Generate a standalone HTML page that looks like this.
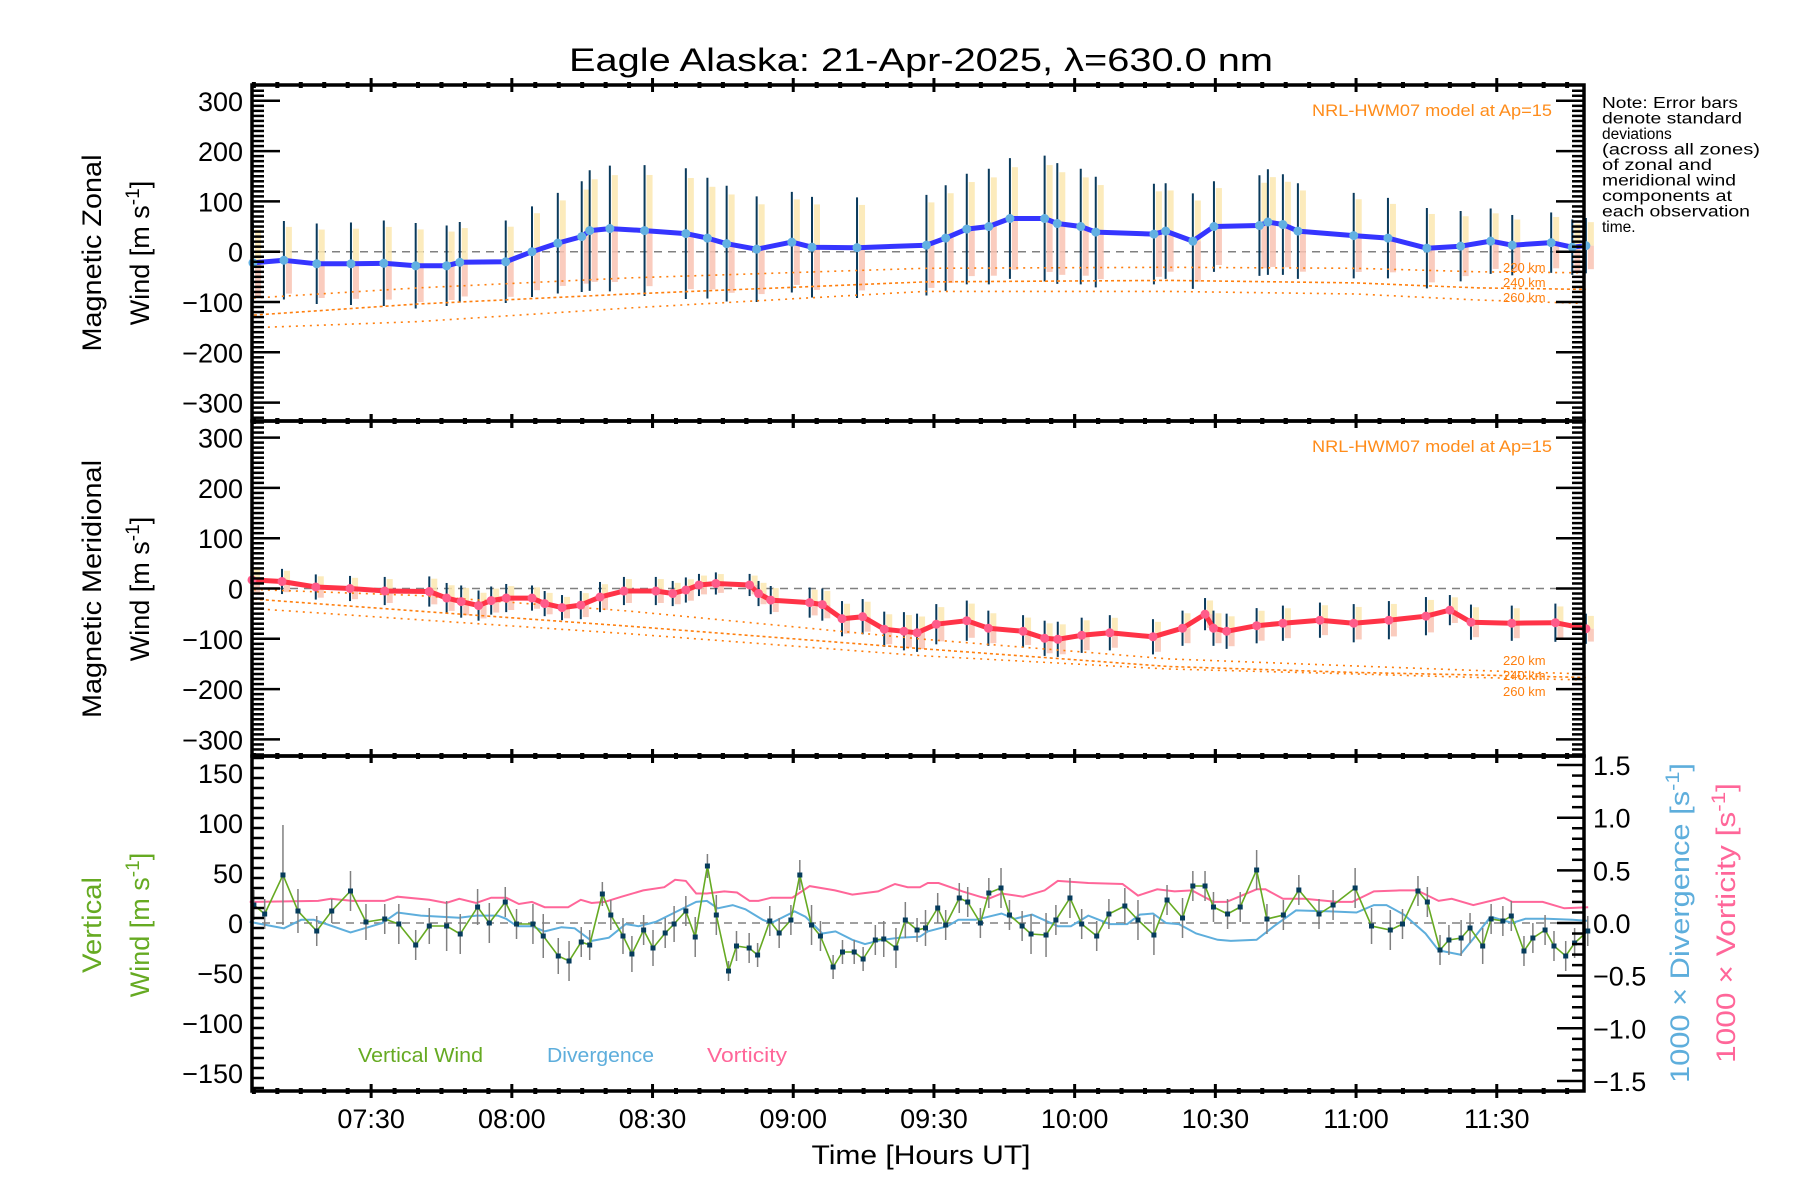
<!DOCTYPE html>
<html><head><meta charset="utf-8"><style>
html,body{margin:0;padding:0;background:#fff;}
svg{display:block;font-family:"Liberation Sans","DejaVu Sans",sans-serif;}
</style></head><body>
<svg id="chart" xmlns="http://www.w3.org/2000/svg" width="1800" height="1200" viewBox="0 0 1800 1200">
<rect x="0" y="0" width="1800" height="1200" fill="#fff"/>
<g id="layer"></g>
<text x="921" y="71" font-size="32" text-anchor="middle" textLength="704" lengthAdjust="spacingAndGlyphs">Eagle Alaska: 21-Apr-2025, λ=630.0 nm</text>
<g font-size="15.5" fill="#000">
<text x="1602" y="108" textLength="136" lengthAdjust="spacingAndGlyphs">Note: Error bars</text>
<text x="1602" y="123.5" textLength="140" lengthAdjust="spacingAndGlyphs">denote standard</text>
<text x="1602" y="139">deviations</text>
<text x="1602" y="154.5" textLength="158" lengthAdjust="spacingAndGlyphs">(across all zones)</text>
<text x="1602" y="170" textLength="110" lengthAdjust="spacingAndGlyphs">of zonal and</text>
<text x="1602" y="185.5" textLength="134" lengthAdjust="spacingAndGlyphs">meridional wind</text>
<text x="1602" y="201" textLength="130" lengthAdjust="spacingAndGlyphs">components at</text>
<text x="1602" y="216.5" textLength="148" lengthAdjust="spacingAndGlyphs">each observation</text>
<text x="1602" y="232">time.</text>
</g>
<g font-size="27">
<text transform="translate(101,253) rotate(-90)" text-anchor="middle" textLength="197" lengthAdjust="spacingAndGlyphs">Magnetic Zonal</text>
<text transform="translate(149,253) rotate(-90)" text-anchor="middle">Wind [m s<tspan dy="-10" font-size="19">-1</tspan><tspan dy="10">]</tspan></text>
</g>
<g font-size="27">
<text transform="translate(101,589) rotate(-90)" text-anchor="middle" textLength="258" lengthAdjust="spacingAndGlyphs">Magnetic Meridional</text>
<text transform="translate(149,589) rotate(-90)" text-anchor="middle">Wind [m s<tspan dy="-10" font-size="19">-1</tspan><tspan dy="10">]</tspan></text>
</g>
<g font-size="27" fill="#66aa22">
<text transform="translate(101,925) rotate(-90)" text-anchor="middle" textLength="96" lengthAdjust="spacingAndGlyphs">Vertical</text>
<text transform="translate(149,925) rotate(-90)" text-anchor="middle">Wind [m s<tspan dy="-10" font-size="19">-1</tspan><tspan dy="10">]</tspan></text>
</g>
<g font-size="27" fill="#5eaedc">
<text transform="translate(1689,923) rotate(-90)" text-anchor="middle" textLength="320" lengthAdjust="spacingAndGlyphs">1000 × Divergence [s<tspan dy="-10" font-size="19">-1</tspan><tspan dy="10">]</tspan></text>
</g>
<g font-size="27" fill="#ff6699">
<text transform="translate(1735,923) rotate(-90)" text-anchor="middle" textLength="280" lengthAdjust="spacingAndGlyphs">1000 × Vorticity [s<tspan dy="-10" font-size="19">-1</tspan><tspan dy="10">]</tspan></text>
</g>
<text x="921" y="1164" font-size="27" text-anchor="middle" textLength="219" lengthAdjust="spacingAndGlyphs">Time [Hours UT]</text>
<g font-size="17" fill="#ff8c1a">
<text x="1552" y="116" text-anchor="end" textLength="240" lengthAdjust="spacingAndGlyphs">NRL-HWM07 model at Ap=15</text>
<text x="1552" y="452" text-anchor="end" textLength="240" lengthAdjust="spacingAndGlyphs">NRL-HWM07 model at Ap=15</text>
</g>
<g font-size="20">
<text x="358" y="1062" fill="#66aa22" textLength="125" lengthAdjust="spacingAndGlyphs">Vertical Wind</text>
<text x="547" y="1062" fill="#5eaedc" textLength="107" lengthAdjust="spacingAndGlyphs">Divergence</text>
<text x="707" y="1062" fill="#ff6699" textLength="80" lengthAdjust="spacingAndGlyphs">Vorticity</text>
</g>
</svg>
<script>
// ---- data (time in minutes after 07:00 UT) ----
const xTickLabels = ["07:30","08:00","08:30","09:00","09:30","10:00","10:30","11:00","11:30"];
const xTickMinutes = [30,60,90,120,150,180,210,240,270];
const windTickValues = [300,200,100,0,-100,-200,-300];
const vertTickValues = [150,100,50,0,-50,-100,-150];
const rightTickValues = [1.5,1.0,0.5,0.0,-0.5,-1.0,-1.5];
const rightTickLabels = ["1.5","1.0","0.5","0.0","\u22120.5","\u22121.0","\u22121.5"];

const zonalTimes = [4.8,11.4,18.4,25.7,32.7,39.5,46.1,48.9,58.7,64.3,69.8,74.9,76.6,80.9,88.3,97.1,101.7,105.8,112.2,119.7,124,133.6,148.4,152.5,157,161.7,166.2,173.6,176.3,181.3,184.5,196.9,199.4,205.2,209.7,219.4,221.2,224.4,227.6,239.5,246.8,255.1,262.3,268.7,273.3,281.6,286.1,289];
const zonalValues = [-22,-17,-24,-24,-23,-28,-28,-21,-20,0,17,30,42,46,42,36,27,16,5,19,9,8,13,27,45,50,66,66,56,50,39,35,41,21,50,52,59,54,41,32,27,7,11,21,13,18,9,12];
const zonalErrors = [78,78,80,82,85,85,80,80,82,90,100,110,120,125,130,130,120,115,105,100,100,100,100,105,110,115,120,125,120,115,110,100,95,95,90,100,105,100,95,85,80,80,70,65,60,60,55,55];

const meridTimes = [4.6,11,18.2,25.5,32.9,42.4,46.1,49.2,52.9,55.6,58.8,64.3,67,70.7,74.7,78.8,83.9,90.7,94.3,97.1,99.9,103.5,110.7,112.6,115.2,123.5,126.2,130.4,134.8,139.4,143.6,146.4,150.5,157,161.6,169,173.6,176.4,181.5,187.5,196.7,203,207.8,209.6,212.4,218.8,224.4,232.3,239.5,247,254.9,260,264.5,273.2,282.5,289];
const meridValues = [17,14,3,0,-5,-6,-19,-26,-34,-24,-19,-19,-30,-38,-33,-17,-5,-5,-10,-3,7,10,7,-10,-23,-28,-32,-60,-56,-81,-85,-88,-71,-64,-79,-85,-99,-101,-93,-88,-96,-79,-51,-79,-85,-74,-69,-63,-69,-63,-55,-43,-67,-69,-68,-80];
const meridErrors = [30,25,25,25,28,30,30,32,30,28,28,25,25,25,28,30,28,28,25,25,22,22,22,25,28,30,32,35,35,35,38,38,40,40,35,32,35,35,35,35,35,35,32,35,35,35,35,35,38,38,38,30,35,35,38,30];

const modelTimes = [5,40,85,148,200,240,266,289];
const zonal220 = [-92,-72,-52,-33,-31,-33,-40,-42];
const zonal240 = [-126,-104,-84,-60,-57,-62,-72,-75];
const zonal260 = [-151,-139,-112,-79,-79,-84,-96,-103];
const merid220 = [-2,-14,-45,-101,-140,-154,-163,-170];
const merid240 = [-21,-45,-75,-120,-155,-167,-172,-177];
const merid260 = [-40,-62,-90,-134,-160,-170,-177,-182];

const vwTimes = [5,7.3,11.2,14.4,18.4,21.6,25.6,28.9,32.9,35.9,39.5,42.4,46.1,49,52.7,55.2,58.6,61,64.5,66.7,69.9,72.2,74.8,76.6,79.3,81.1,83.7,85.6,88.1,90.1,92.7,94.6,97.1,99.1,101.7,103.6,106.2,107.9,110.6,112.4,115,117,119.5,121.4,123.9,125.8,128.5,130.5,133,134.9,137.5,139.3,141.9,143.9,146.4,148.2,150.8,152.5,155.4,157.2,159.9,161.7,164.3,166.1,168.8,170.7,173.9,176,179,181.5,184.7,187.3,190.7,193.5,196.9,199.7,203,205.2,207.8,209.6,212.6,215.3,218.8,221,224.5,227.8,232.1,235.1,239.8,243.3,247.3,249.9,253.2,255.2,257.9,259.8,262.4,264.3,267,268.8,271.3,273.1,275.8,277.7,280.3,282.2,284.7,286.6,289.4];
const vwValues = [18,9,48,12,-8,12,32,1,4,-1,-22,-3,-3,-11,16,0,21,-1,-1,-13,-33,-38,-19,-22,29,8,-13,-31,-7,-25,-10,-1,12,-14,57,8,-48,-23,-25,-32,2,-10,3,48,-2,-13,-44,-29,-29,-36,-17,-16,-25,3,-7,-5,15,-2,25,21,0,30,35,8,-3,-11,-12,3,25,-1,-13,9,17,3,-12,23,5,37,37,16,9,16,53,4,8,33,9,18,35,-3,-7,-1,32,21,-27,-17,-15,-5,-23,4,2,7,-28,-15,-7,-23,-33,-20,-8];
const vwErrors = [15,15,50,22,15,12,20,18,15,20,15,18,25,20,18,20,15,15,20,22,18,20,15,15,12,15,18,18,15,18,15,18,15,20,12,20,10,15,15,12,15,15,15,15,20,15,12,12,12,12,15,18,20,18,12,18,15,15,15,15,15,15,20,15,15,20,22,15,20,15,15,15,18,20,20,15,20,15,15,15,15,15,20,15,15,15,15,15,20,18,20,15,15,15,15,15,18,15,18,15,15,15,15,15,15,15,15,15,15];

const vortTimes = [4.1,18.7,21.4,26.0,32.8,35.6,42.4,46.0,48.8,52.4,55.6,58.8,61.5,64.3,67.0,72.0,74.7,77.0,79.8,83.4,88.0,92.5,94.8,97.1,99.3,101.6,105.3,108.0,110.7,112.6,115.3,119.8,123.5,128.9,132.6,138.1,141.7,144.4,147.0,148.7,151.0,156.1,159.8,161.6,164.4,169.0,173.6,176.4,182.9,190.2,193.5,197.6,201.3,205.0,209.6,212.4,218.8,220.7,224.4,229.0,235.9,239.2,243.8,249.3,253.0,257.6,260.4,265.0,271.5,273.3,279.8,284.4,289.5];
const vortValues = [0.20,0.21,0.23,0.21,0.21,0.25,0.22,0.19,0.23,0.19,0.24,0.24,0.18,0.20,0.15,0.15,0.22,0.19,0.20,0.25,0.31,0.34,0.41,0.40,0.28,0.28,0.30,0.29,0.21,0.21,0.24,0.24,0.35,0.31,0.27,0.30,0.37,0.34,0.34,0.38,0.38,0.30,0.25,0.23,0.28,0.25,0.31,0.40,0.38,0.37,0.26,0.32,0.30,0.31,0.20,0.20,0.32,0.32,0.23,0.23,0.20,0.20,0.30,0.31,0.31,0.21,0.23,0.17,0.24,0.20,0.20,0.14,0.15];

const divTimes = [4.1,11.4,15.1,17.8,25.6,32.4,35.6,40.6,48.8,52.4,57.0,58.8,61.1,64.3,67.0,70.6,73.4,77.0,80.7,84.3,87.0,90.7,94.3,99.3,101.6,103.9,107.1,109.8,113.5,115.3,120.3,122.6,126.2,129.0,132.6,135.3,139.0,142.6,147.0,148.7,152.9,155.2,158.9,164.4,167.2,170.9,176.4,179.2,182.9,187.5,191.2,193.9,196.7,199.5,202.2,205.9,210.5,213.3,218.8,222.5,227.2,234.5,240.1,243.8,246.5,250.2,254.8,257.6,262.2,265.0,268.7,273.3,276.1,280.7,286.2,289.5];
const divValues = [0.01,-0.05,0.03,0.03,-0.09,0.00,0.10,0.07,0.05,0.07,0.07,0.04,-0.03,-0.03,-0.08,-0.04,-0.05,-0.17,-0.14,-0.01,-0.03,0.01,0.09,0.20,0.21,0.14,0.17,0.13,0.03,0.00,0.11,0.06,-0.10,-0.08,-0.16,-0.20,-0.16,-0.14,-0.13,-0.08,-0.03,0.03,0.03,0.09,0.04,0.08,-0.03,-0.03,0.07,-0.01,-0.01,0.08,0.09,0.00,-0.01,-0.10,-0.16,-0.17,-0.16,-0.03,0.12,0.11,0.10,0.17,0.17,0.08,-0.10,-0.26,-0.30,-0.15,0.06,0.00,0.04,0.04,0.03,0.02];

// ---- scales ----
const X0 = 252, X1 = 1584, T0 = 4.6, T1 = 288.6;
function xs(t){ return X0 + (t - T0) * (X1 - X0) / (T1 - T0); }
const P = [
  {top:85, bot:421, zero:251.7, k:0.503},
  {top:421, bot:756, zero:588.5, k:0.503},
  {top:756, bot:1091, zero:923, k:1.0}
];
function yz(v){ return P[0].zero - v*P[0].k; }
function ym(v){ return P[1].zero - v*P[1].k; }
function yv(v){ return P[2].zero - v*P[2].k; }
function yr(v){ return P[2].zero - v*105.3; }

const NS = "http://www.w3.org/2000/svg";
const layer = document.getElementById('layer');
function mk(tag, attrs, parent){
  const e = document.createElementNS(NS, tag);
  for (const k in attrs) e.setAttribute(k, attrs[k]);
  (parent||layer).appendChild(e);
  return e;
}
function group(name){
  const g = document.createElementNS(NS,'g');
  
  
  layer.appendChild(g);
  return g;
}
function polyPts(ts, vs, yf){ return ts.map((t,i)=>xs(t).toFixed(1)+','+yf(vs[i]).toFixed(1)).join(' '); }

// ---- zero lines ----
const gz = group('zero-lines');
[P[0].zero, P[1].zero, P[2].zero].forEach(y=>{
  mk('line',{x1:262,x2:X1,y1:y,y2:y,stroke:'#808080','stroke-width':1.5,'stroke-dasharray':'8,6'},gz);
});

// ---- panel 1 & 2: pale zone bars, error bars ----
function windPanel(name, ts, vs, es, yf, lineColor, dotColor){
  const gp = group(name+'-zone-bars');
  ts.forEach((t,i)=>{
    const x = xs(t)+5;
    const yTop = yf(vs[i]+0.85*es[i]), yMid = yf(vs[i]), yBot = yf(vs[i]-0.85*es[i]);
    const r1 = mk('rect',{x:x-3,y:yTop,width:6,height:yMid-yTop,fill:'#fbe8b0',opacity:0.85},gp);
    
    
    const r2 = mk('rect',{x:x-3,y:yMid,width:6,height:yBot-yMid,fill:'#f9c3b3',opacity:0.85},gp);
    
    
  });
  const ge = group(name+'-error-bars');
  ts.forEach((t,i)=>{
    const x = xs(t);
    const l = mk('line',{x1:x,x2:x,y1:yf(vs[i]+es[i]),y2:yf(vs[i]-es[i]),stroke:'#0a3a5c','stroke-width':2},ge);
    
    
  });
}
windPanel('zonal', zonalTimes, zonalValues, zonalErrors, yz);
windPanel('meridional', meridTimes, meridValues, meridErrors, ym);

// ---- model lines ----
function modelLine(name, vs, yf, dash){
  const pl = mk('polyline',{points:polyPts(modelTimes, vs, yf),fill:'none',stroke:'#ff7f0e','stroke-width':1.6,'stroke-dasharray':dash});
  
  
}
modelLine('model-zonal-220km', zonal220, yz, '2,5');
modelLine('model-zonal-240km', zonal240, yz, '3,3');
modelLine('model-zonal-260km', zonal260, yz, '2,5');
modelLine('model-meridional-220km', merid220, ym, '2,5');
modelLine('model-meridional-240km', merid240, ym, '3,3');
modelLine('model-meridional-260km', merid260, ym, '2,5');
const gml = group('model-labels');
[["220 km",267],["240 km",282],["260 km",297],["220 km",660],["240 km",675],["260 km",691]].forEach(a=>{
  const t = mk('text',{x:1503,y:a[1]+5,'font-size':13,fill:'#ff7f0e'},gml);
  t.textContent = a[0];
});

// ---- mean lines ----
const zl = mk('polyline',{points:polyPts(zonalTimes, zonalValues, yz),fill:'none',stroke:'#3535ff','stroke-width':5,'stroke-linejoin':'round'});


const gzd = group('zonal-wind-points');
zonalTimes.forEach((t,i)=>{
  const c = mk('circle',{cx:xs(t),cy:yz(zonalValues[i]),r:4.5,fill:'#62b0e2'},gzd);
  
  
});
const ml = mk('polyline',{points:polyPts(meridTimes, meridValues, ym),fill:'none',stroke:'#ff3347','stroke-width':5,'stroke-linejoin':'round'});


const gmd = group('meridional-wind-points');
meridTimes.forEach((t,i)=>{
  const c = mk('circle',{cx:xs(t),cy:ym(meridValues[i]),r:4.5,fill:'#ff5c8a'},gmd);
  
  
});

// ---- panel 3 ----
const vo = mk('polyline',{points:polyPts(vortTimes, vortValues, yr),fill:'none',stroke:'#ff6699','stroke-width':2});


const dv = mk('polyline',{points:polyPts(divTimes, divValues, yr),fill:'none',stroke:'#5eaedc','stroke-width':2});


const gve = group('vertical-wind-error-bars');
vwTimes.forEach((t,i)=>{
  const x = xs(t);
  const l = mk('line',{x1:x,x2:x,y1:yv(vwValues[i]+vwErrors[i]),y2:yv(vwValues[i]-vwErrors[i]),stroke:'#808080','stroke-width':1.5},gve);
  
  
});
const vl = mk('polyline',{points:polyPts(vwTimes, vwValues, yv),fill:'none',stroke:'#66aa22','stroke-width':1.6});


const gvp = group('vertical-wind-points');
vwTimes.forEach((t,i)=>{
  const r = mk('rect',{x:xs(t)-2.5,y:yv(vwValues[i])-2.5,width:5,height:5,fill:'#063c5c'},gvp);
  
  
});

// ---- axes / frames / ticks ----
const ga = group('axes');
P.forEach((p,pi)=>{
  // x ticks
  for (let m=5; m<=285; m+=5){
    const x = xs(m);
    const major = xTickMinutes.indexOf(m) >= 0;
    const h = major ? 7 : 3;
    [p.top, p.bot].forEach(y=>{
      mk('line',{x1:x,x2:x,y1:y-h,y2:y+h,stroke:'#000','stroke-width':major?3:4},ga);
    });
  }
  // y ticks
  const lo = pi<2 ? -330 : -165, hi = pi<2 ? 330 : 165;
  const step = 10, majorStep = pi<2 ? 100 : 50;
  for (let v=lo; v<=hi; v+=step){
    const y = p.zero - v*p.k;
    if (y < p.top+1 || y > p.bot-1) continue;
    const major = (v % majorStep) === 0;
    const len = major ? 28 : 12;
    mk('line',{x1:X0,x2:X0+len,y1:y,y2:y,stroke:'#000','stroke-width':2.5},ga);
    if (pi<2) mk('line',{x1:X1-len,x2:X1,y1:y,y2:y,stroke:'#000','stroke-width':2.5},ga);
  }
  mk('rect',{x:X0,y:p.top,width:X1-X0,height:p.bot-p.top,fill:'none',stroke:'#000','stroke-width':3.5},ga);
});
// right axis panel 3
for (let i=-15; i<=15; i++){
  const v = i/10;
  const y = yr(v);
  if (y < P[2].top+1 || y > P[2].bot-1) continue;
  const len = (i%5===0) ? 27 : 12;
  mk('line',{x1:X1-len,x2:X1,y1:y,y2:y,stroke:'#000','stroke-width':2.5},ga);
}

// ---- tick labels ----
const gl = group('tick-labels');
function fmt(v){ return v<0 ? '\u2212'+Math.abs(v) : String(v); }
[yz, ym].forEach((yf,pi)=>{
  windTickValues.forEach(v=>{
    const t = mk('text',{x:243,y:yf(v)+10,'font-size':27,'text-anchor':'end'},gl);
    t.textContent = fmt(v);
    
    
  });
});
vertTickValues.forEach(v=>{
  const t = mk('text',{x:243,y:yv(v)+10,'font-size':27,'text-anchor':'end'},gl);
  t.textContent = fmt(v);
  
  
});
rightTickValues.forEach((v,i)=>{
  const t = mk('text',{x:1593,y:yr(v)+10,'font-size':27},gl);
  t.textContent = rightTickLabels[i];
  
  
});
xTickMinutes.forEach((m,i)=>{
  const t = mk('text',{x:xs(m),y:1128,'font-size':27,'text-anchor':'middle'},gl);
  t.textContent = xTickLabels[i];
  
  
});
</script>
</body></html>
